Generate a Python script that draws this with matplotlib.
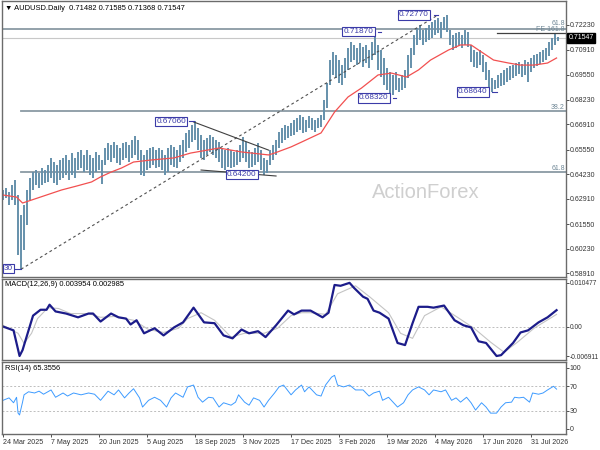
import numpy as np
import matplotlib.pyplot as plt
import matplotlib.transforms as mtransforms

plt.rcParams['font.family'] = ['Liberation Sans', 'DejaVu Sans']

# price bars, one entry every 2 trading days starting 24 Mar 2025
highs = [0.6338, 0.6349, 0.6327, 0.6365, 0.6391, 0.6311, 0.6204, 0.6257, 0.6338, 0.6402,
         0.6434, 0.6445, 0.6429, 0.6456, 0.6445, 0.6472, 0.6510, 0.6488, 0.6472, 0.6499,
         0.6510, 0.6526, 0.6499, 0.6536, 0.6510, 0.6542, 0.6552, 0.6526, 0.6552, 0.6526,
         0.6510, 0.6542, 0.6526, 0.6499, 0.6563, 0.6590, 0.6579, 0.6595, 0.6579, 0.6563,
         0.6590, 0.6595, 0.6579, 0.6606, 0.6627, 0.6606, 0.6552, 0.6526, 0.6552, 0.6563,
         0.6569, 0.6552, 0.6563, 0.6552, 0.6526, 0.6563, 0.6579, 0.6569, 0.6552, 0.6579,
         0.6606, 0.6644, 0.6660, 0.6687, 0.6706, 0.6670, 0.6633, 0.6606, 0.6617, 0.6633,
         0.6622, 0.6606, 0.6595, 0.6563, 0.6552, 0.6563, 0.6552, 0.6542, 0.6552, 0.6579,
         0.6622, 0.6595, 0.6552, 0.6542, 0.6563, 0.6590, 0.6552, 0.6510, 0.6499, 0.6552,
         0.6579, 0.6606, 0.6649, 0.6670, 0.6687, 0.6681, 0.6697, 0.6713, 0.6724, 0.6740,
         0.6729, 0.6713, 0.6735, 0.6724, 0.6713, 0.6724, 0.6740, 0.6821, 0.6912, 0.7035,
         0.7078, 0.7062, 0.7035, 0.7008, 0.7046, 0.7100, 0.7132, 0.7116, 0.7100, 0.7126,
         0.7105, 0.7116, 0.7089, 0.7132, 0.7187, 0.7116, 0.7089, 0.7046, 0.6992, 0.6971,
         0.6955, 0.6971, 0.6939, 0.6955, 0.6982, 0.7062, 0.7100, 0.7169, 0.7207, 0.7223,
         0.7196, 0.7207, 0.7223, 0.7239, 0.7250, 0.7261, 0.7239, 0.7266, 0.7277, 0.7196,
         0.7169, 0.7180, 0.7185, 0.7169, 0.7196, 0.7185, 0.7116, 0.7089, 0.7078, 0.7089,
         0.7062, 0.7024, 0.6982, 0.6939, 0.6928, 0.6955, 0.6965, 0.6982, 0.6992, 0.7003,
         0.7008, 0.7019, 0.7024, 0.7014, 0.7035, 0.7024, 0.7046, 0.7062, 0.7067, 0.7078,
         0.7089, 0.7100, 0.7132, 0.7153, 0.7180, 0.71585]
lows = [0.6284, 0.6295, 0.6257, 0.6284, 0.6257, 0.5989, 0.5913, 0.6016, 0.6150, 0.6284,
        0.6338, 0.6365, 0.6349, 0.6365, 0.6375, 0.6381, 0.6402, 0.6375, 0.6365, 0.6391,
        0.6402, 0.6418, 0.6391, 0.6418, 0.6402, 0.6445, 0.6456, 0.6434, 0.6445, 0.6418,
        0.6402, 0.6434, 0.6445, 0.6370, 0.6472, 0.6499, 0.6488, 0.6510, 0.6483, 0.6472,
        0.6499, 0.6510, 0.6488, 0.6510, 0.6526, 0.6499, 0.6418, 0.6413, 0.6445, 0.6456,
        0.6472, 0.6456, 0.6461, 0.6445, 0.6418, 0.6434, 0.6472, 0.6461, 0.6456, 0.6488,
        0.6510, 0.6542, 0.6563, 0.6595, 0.6606, 0.6552, 0.6510, 0.6499, 0.6526, 0.6542,
        0.6526, 0.6510, 0.6488, 0.6456, 0.6445, 0.6461, 0.6456, 0.6461, 0.6472, 0.6488,
        0.6510, 0.6488, 0.6456, 0.6461, 0.6472, 0.6488, 0.6445, 0.6420, 0.6429, 0.6472,
        0.6499, 0.6526, 0.6563, 0.6590, 0.6606, 0.6617, 0.6627, 0.6633, 0.6649, 0.6660,
        0.6644, 0.6649, 0.6670, 0.6660, 0.6649, 0.6670, 0.6676, 0.6713, 0.6778, 0.6901,
        0.6955, 0.6939, 0.6912, 0.6901, 0.6939, 0.6982, 0.7024, 0.7035, 0.7008, 0.7024,
        0.6998, 0.7019, 0.6992, 0.7035, 0.7062, 0.6982, 0.6944, 0.6901, 0.6874, 0.6832,
        0.6848, 0.6874, 0.6864, 0.6874, 0.6885, 0.6939, 0.6992, 0.7062, 0.7116, 0.7143,
        0.7116, 0.7132, 0.7143, 0.7153, 0.7169, 0.7180, 0.7153, 0.7196, 0.7185, 0.7116,
        0.7089, 0.7100, 0.7110, 0.7100, 0.7116, 0.7105, 0.7024, 0.6998, 0.6992, 0.7008,
        0.6971, 0.6928, 0.6885, 0.6864, 0.6880, 0.6885, 0.6896, 0.6901, 0.6917, 0.6928,
        0.6939, 0.6949, 0.6960, 0.6944, 0.6955, 0.6917, 0.6971, 0.6992, 0.7003, 0.7014,
        0.7024, 0.7035, 0.7057, 0.7089, 0.7116, 0.71368]

# red moving average (bar index, price)
ma_idx = [0, 9, 13, 19, 29, 39, 49, 59, 65, 72, 79, 87, 99, 114, 125, 144, 159, 177, 181, 192,
          199, 212, 221, 230, 239, 250, 259, 269, 277, 285, 297, 305, 312, 319, 327, 337, 345,
          354, 363, 369]
ma_val = [0.6311, 0.6300, 0.6268, 0.6284, 0.6311, 0.6338, 0.6359, 0.6381, 0.6408, 0.6434,
          0.6456, 0.6488, 0.6499, 0.6510, 0.6536, 0.6563, 0.6542, 0.6526, 0.6536, 0.6569,
          0.6595, 0.6644, 0.6756, 0.6837, 0.6885, 0.6955, 0.6965, 0.6944, 0.6982, 0.7035,
          0.7089, 0.7116, 0.7116, 0.7078, 0.7035, 0.7019, 0.7008, 0.7008, 0.7019, 0.7046]

# MACD main line and signal
macd_idx = [0, 7, 11, 13, 17, 20, 25, 29, 31, 35, 42, 50, 57, 60, 65, 72, 77, 82, 85, 89,
            94, 101, 107, 114, 120, 127, 134, 141, 147, 153, 159, 164, 170, 175, 182, 190, 194,
            199, 205, 213, 217, 221, 225, 231, 234, 240, 243, 247, 251, 257, 263, 268, 273,
            277, 283, 287, 294, 301, 307, 312, 317, 322, 329, 332, 340, 345, 350, 357, 363, 369]
macd_val = [0.0001, -0.0008, -0.0069, -0.0055, -0.0008, 0.0027, 0.0041, 0.0041, 0.0053, 0.0037,
            0.0032, 0.0023, 0.0032, 0.0032, 0.0013, 0.0032, 0.0023, 0.0020, 0.0006, 0.0016,
            -0.0015, -0.0003, -0.0020, -0.0001, 0.0011, 0.0046, 0.0011, 0.0009, -0.0020, -0.0027,
            -0.0006, -0.0015, -0.0010, -0.0024, 0.0004, 0.0039, 0.0030, 0.0039, 0.0039, 0.0023,
            0.0034, 0.0100, 0.0098, 0.0105, 0.0093, 0.0072, 0.0067, 0.0039, 0.0034, 0.0020,
            -0.0038, -0.0043, 0.0009, 0.0048, 0.0048, 0.0046, 0.0051, 0.0016, 0.0004, -0.0001,
            -0.0034, -0.0038, -0.0069, -0.0067, -0.0038, -0.0013, -0.0008, 0.0011, 0.0023, 0.0040]
sig_idx = [0, 10, 14, 19, 23, 30, 37, 45, 57, 65, 74, 87, 97, 107, 117, 123, 132, 141, 152,
           161, 174, 183, 192, 199, 205, 215, 223, 235, 245, 257, 265, 273, 281, 292, 303, 314,
           325, 334, 343, 354, 369]
sig_val = [0.0004, -0.0015, -0.0039, -0.0015, 0.0020, 0.0046, 0.0044, 0.0032, 0.0032, 0.0023,
           0.0025, 0.0016, -0.0006, -0.0013, -0.0003, 0.0020, 0.0034, 0.0016, -0.0024, -0.0015,
           -0.0015, -0.0003, 0.0027, 0.0034, 0.0034, 0.0030, 0.0079, 0.0098, 0.0070, 0.0034,
           -0.0015, -0.0027, 0.0027, 0.0048, 0.0023, -0.0003, -0.0036, -0.0060, -0.0036, -0.0003,
           0.0030]

# RSI(14)
rsi_idx = [0, 4, 7, 9, 10, 11, 13, 14, 17, 21, 24, 27, 32, 35, 40, 43, 47, 52, 57, 61,
           65, 70, 74, 77, 81, 84, 87, 91, 93, 97, 101, 105, 109, 112, 115, 120, 123, 127, 130,
           133, 137, 140, 144, 147, 152, 155, 157, 161, 164, 167, 171, 174, 177, 181, 184, 187,
           192, 195, 199, 201, 204, 209, 212, 215, 219, 221, 223, 227, 231, 235, 240, 244, 247,
           251, 253, 257, 260, 263, 267, 270, 273, 277, 281, 284, 287, 292, 295, 299, 302, 305,
           309, 312, 315, 319, 322, 325, 329, 332, 335, 339, 341, 344, 347, 351, 353, 357, 360,
           363, 367, 369]
rsi_val = [47, 51, 43, 52, 26, 23, 44, 56, 61, 59, 62, 57, 64, 52, 59, 54, 59, 56, 59, 57,
           47, 62, 56, 64, 51, 59, 66, 51, 36, 47, 52, 47, 36, 51, 59, 52, 69, 72, 52,
           44, 52, 51, 36, 43, 39, 44, 56, 44, 39, 51, 47, 36, 47, 59, 69, 72,
           56, 64, 72, 61, 69, 56, 54, 72, 85, 88, 72, 69, 72, 64, 64, 54, 59,
           62, 47, 52, 44, 36, 43, 56, 64, 69, 64, 56, 64, 61, 64, 47, 51, 44,
           52, 43, 31, 43, 36, 26, 26, 36, 43, 44, 52, 51, 52, 44, 59, 57, 59,
           64, 70, 65.36]

price_ticks = [0.72230, 0.70910, 0.69550, 0.68230, 0.66910, 0.65550, 0.64230, 0.62910,
               0.61550, 0.60230, 0.58910]
date_labels = ['24 Mar 2025', '7 May 2025', '20 Jun 2025', '5 Aug 2025', '18 Sep 2025',
               '3 Nov 2025', '17 Dec 2025', '3 Feb 2026', '19 Mar 2026', '4 May 2026',
               '17 Jun 2026', '31 Jul 2026']
swings = [(0.67060, '0.67060'), (0.64200, '0.64200'), (0.71870, '0.71870'),
          (0.68320, '0.68320'), (0.72770, '0.72770'), (0.68640, '0.68640')]
last_price = 0.71547

bar_col = '#6590ab'
frame_col = '#6b6b6b'
fib_col = '#8a9aa4'
lab_col = '#3b3ba8'
fs = 5.4
fs_tick = 5.0

W, H = 600.0, 450.0
fig = plt.figure(figsize=(6, 4.5), dpi=100)
ax = fig.add_axes([2 / W, 1 - 277 / H, 564 / W, 276 / H])
mx = fig.add_axes([2 / W, 1 - 360 / H, 564 / W, 81 / H])
rx = fig.add_axes([2 / W, 1 - 434 / H, 564 / W, 72 / H])

xl = (-0.7, 375.3)
for a in (ax, mx, rx):
    a.set_xlim(*xl)
    a.yaxis.tick_right()
    a.tick_params(axis='y', labelsize=fs_tick, length=1.8, pad=0.8, width=0.6, colors='#333333')
    a.tick_params(axis='x', bottom=False, labelbottom=False)
    for s in a.spines.values():
        s.set_color(frame_col)
        s.set_linewidth(1.0)

# main price panel
bar_idx = np.arange(len(highs)) * 2
ax.set_ylim(0.58712, 0.73517)
ax.vlines(bar_idx, lows, highs, color=bar_col, lw=1.4)
ax.plot(ma_idx, ma_val, color='#f25050', lw=0.9)

ax.axhline(last_price, color='#c8c8c8', lw=0.8, zorder=0)
ax.axhline(0.7202, color=fib_col, lw=1.3, zorder=0)
ax.plot([12, 376], [0.6762, 0.6762], color=fib_col, lw=1.3, zorder=0)
ax.plot([12, 376], [0.6434, 0.6434], color=fib_col, lw=1.3, zorder=0)
ax.plot([329, 376], [0.7180, 0.7180], color='#404040', lw=0.9)
for yv, t in [(0.7210, '61.8'), (0.71775, 'FE 161.8'), (0.6763, '38.2'), (0.6435, '61.8')]:
    ax.text(374.5, yv, t, ha='right', va='bottom', fontsize=fs_tick, color='#6f8796')

# trend lines
ax.plot([12, 290], [0.5913, 0.7277], color='#505050', lw=0.8, ls=(0, (2.5, 2.5)))
ax.plot([127, 177], [0.6703, 0.6552], color='#404040', lw=0.8)
ax.plot([132, 182], [0.6445, 0.6413], color='#404040', lw=0.8)

# swing labels
lab_pos = [112, 159, 237, 247, 274, 313]
for (val, txt), xi in zip(swings, lab_pos):
    ax.text(xi, val, txt, ha='center', va='center', fontsize=fs + 0.5, color=lab_col,
            bbox=dict(boxstyle='square,pad=0.15', fc='white', ec=lab_col, lw=0.8))
ax.plot([124, 127], [0.6706, 0.6706], color=lab_col, lw=0.8)
ax.plot([250, 252], [0.7187, 0.7187], color=lab_col, lw=0.8)
ax.plot([260, 262], [0.6832, 0.6832], color=lab_col, lw=0.8)
ax.plot([287, 290], [0.7277, 0.7277], color=lab_col, lw=0.8)
ax.plot([326, 329], [0.6864, 0.6864], color=lab_col, lw=0.8)
ax.text(0.5, 0.5917, '30', ha='left', va='center', fontsize=fs + 0.5, color=lab_col,
        bbox=dict(boxstyle='square,pad=0.15', fc='white', ec=lab_col, lw=0.8))
ax.plot([7, 12], [0.5913, 0.5913], color=lab_col, lw=0.8)

ax.text(282, 0.6322, 'ActionForex', ha='center', va='center', fontsize=14.5, color='#cfcfcf')

ax.set_yticks(price_ticks)
ax.set_yticklabels([f'{v:.5f}' for v in price_ticks])
blend = mtransforms.blended_transform_factory(ax.transAxes, ax.transData)
ax.text(1.004, last_price, f'{last_price:.5f}', transform=blend, ha='left', va='center',
        fontsize=fs_tick, color='white', bbox=dict(boxstyle='square,pad=0.2', fc='black', ec='black'))

# MACD panel
mx.set_ylim(-0.007851, 0.011417)
mx.axhline(0, color='#bdbdbd', lw=0.7, ls=(0, (2, 2)))
mx.plot(sig_idx, sig_val, color='#c4c4c4', lw=0.8)
mx.plot(macd_idx, macd_val, color='#1c1c8a', lw=1.6)
mx.set_yticks([0.010477, 0.0, -0.006911])
mx.set_yticklabels(['0.010477', '0.00', '-0.006911'])
mx.tick_params(axis='y', labelsize=fs_tick - 0.2)

# RSI panel
rx.set_ylim(-8.2, 109.8)
rx.axhline(70, color='#bdbdbd', lw=0.7, ls=(0, (2, 2)))
rx.axhline(30, color='#bdbdbd', lw=0.7, ls=(0, (2, 2)))
rx.plot(rsi_idx, rsi_val, color='#3d9bff', lw=0.7)
rx.set_yticks([100, 70, 30, 0])
rx.set_yticklabels(['100', '70', '30', '0'])
rx.set_xticks(np.arange(len(date_labels)) * 32)
rx.set_xticklabels(date_labels, ha='left')
rx.tick_params(axis='x', bottom=True, labelbottom=True, labelsize=fs_tick + 0.1, length=2,
               pad=1.5, width=0.6, colors='#333333')

fig.text(5 / W, 1 - 8 / H, '\u25bc AUDUSD.Daily  0.71482 0.71585 0.71368 0.71547',
         fontsize=fs, va='center', ha='left')
fig.text(5 / W, 1 - 284 / H, 'MACD(12,26,9) 0.003954 0.002985', fontsize=fs, va='center')
fig.text(5 / W, 1 - 369 / H, 'RSI(14) 65.3556', fontsize=fs, va='center')

fig.savefig('out.png', dpi=100)
